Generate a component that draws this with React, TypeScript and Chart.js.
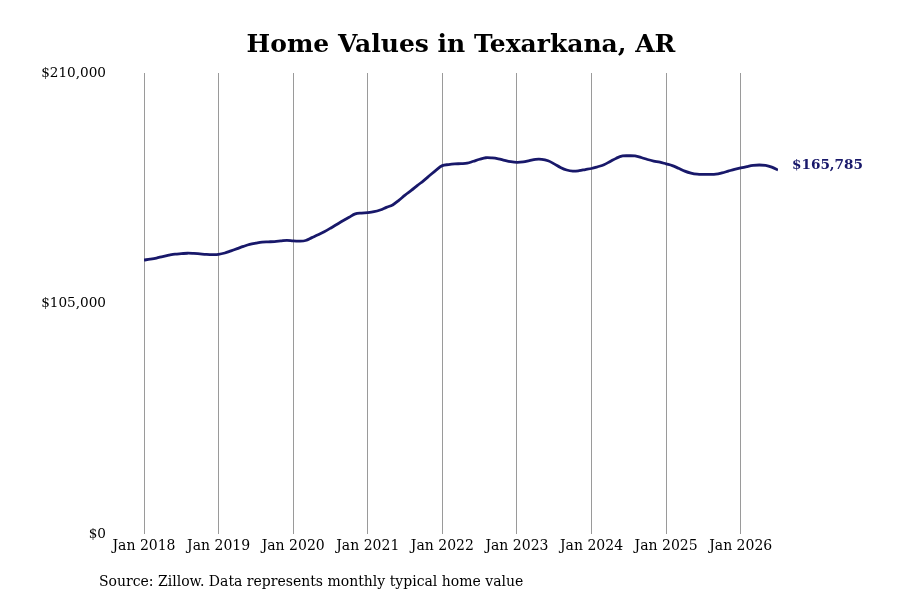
import React, { useEffect, useRef } from "react";
import { Chart, registerables } from "chart.js";

Chart.register(...registerables);

const START_YEAR = 2018;
const tickYears = ["Jan 2018", "Jan 2019", "Jan 2020", "Jan 2021", "Jan 2022", "Jan 2023", "Jan 2024", "Jan 2025", "Jan 2026"];

// Monthly typical home value, Jan 2018 .. Jul 2026
const values2018 = [124800, 125200, 125700, 126400, 127000, 127500, 127700, 127900, 127800, 127600, 127400, 127300];
const values2019 = [127400, 128000, 129000, 130000, 131000, 131900, 132500, 133000, 133100, 133200, 133500, 133800];
const values2020 = [133500, 133400, 133700, 135000, 136300, 137700, 139300, 141000, 142700, 144300, 145800, 146200];
const values2021 = [146400, 146800, 147600, 148800, 149900, 152000, 154400, 156500, 158800, 161000, 163400, 165800];
const values2022 = [167800, 168300, 168600, 168700, 168900, 169800, 170700, 171400, 171300, 170900, 170200, 169600];
const values2023 = [169300, 169500, 170100, 170700, 170700, 170000, 168600, 167000, 165800, 165300, 165500, 166000];
const values2024 = [166500, 167300, 168200, 169700, 171200, 172200, 172300, 172200, 171500, 170600, 169900, 169400];
const values2025 = [168600, 167800, 166600, 165300, 164400, 163900, 163800, 163800, 163900, 164500, 165300, 166100];
const values2026 = [166800, 167400, 167900, 168100, 167900, 167100, 165785];

const allValues = [
  ...values2018, ...values2019, ...values2020, ...values2021, ...values2022,
  ...values2023, ...values2024, ...values2025, ...values2026,
];

const TITLE = "Home Values in Texarkana, AR";
const SOURCE = "Source: Zillow. Data represents monthly typical home value";
const LINE_COLOR = "#18186a";
const FONT = "'DejaVu Serif', serif";

const fmt = (v: number) => "$" + Math.round(v).toLocaleString("en-US");

export default function App() {
  const ref = useRef<HTMLCanvasElement | null>(null);

  useEffect(() => {
    if (!ref.current) return;
    const points = allValues.map((v, i) => ({ x: i, y: v }));
    const lastIndex = allValues.length - 1;

    const extras = {
      id: "extras",
      afterDraw(chart: any) {
        const ctx = chart.ctx;
        const xs = chart.scales.x;
        const ys = chart.scales.y;
        ctx.save();
        // end label
        const lx = xs.getPixelForValue(lastIndex);
        const ly = ys.getPixelForValue(allValues[lastIndex]);
        ctx.font = `bold 13.6px ${FONT}`;
        ctx.fillStyle = LINE_COLOR;
        ctx.textAlign = "left";
        ctx.textBaseline = "middle";
        ctx.fillText(fmt(allValues[lastIndex]), lx + 14, ly - 5);
        // source note
        ctx.font = `14px ${FONT}`;
        ctx.fillStyle = "#000";
        ctx.textBaseline = "middle";
        ctx.fillText(SOURCE, 99, 582);
        ctx.restore();
      },
    };

    const chart = new Chart(ref.current, {
      type: "line",
      data: {
        datasets: [
          {
            data: points,
            borderColor: LINE_COLOR,
            borderWidth: 2.8,
            pointRadius: 0,
            tension: 0.35,
            fill: false,
          },
        ],
      },
      options: {
        responsive: false,
        animation: false,
        devicePixelRatio: 1,
        layout: { padding: { left: 0, right: 122, top: 0, bottom: 0 } },
        plugins: {
          legend: { display: false },
          tooltip: { enabled: false },
          title: {
            display: true,
            text: TITLE,
            fullSize: false,
            color: "#000",
            font: { family: FONT, size: 25, weight: "bold" },
            padding: { top: 30, bottom: 13 },
          },
        },
        scales: {
          x: {
            type: "linear",
            min: 0,
            max: lastIndex,
            border: { display: false },
            grid: { color: "#9a9a9a", lineWidth: 1, drawTicks: false },
            ticks: {
              stepSize: 12,
              includeBounds: false,
              autoSkip: false,
              maxRotation: 0,
              padding: 4,
              color: "#000",
              font: { family: FONT, size: 14 },
              callback: (v: any) => tickYears[Math.round(Number(v) / 12)] ?? "Jan " + (START_YEAR + Number(v) / 12),
            },
            afterFit: (scale: any) => {
              scale.height = 66;
            },
          },
          y: {
            min: 0,
            max: 210000,
            border: { display: false },
            grid: { display: false, drawTicks: false },
            ticks: {
              stepSize: 105000,
              padding: 38,
              color: "#000",
              font: { family: FONT, size: 13.6 },
              callback: (v: any) => fmt(Number(v)),
            },
            afterFit: (scale: any) => {
              scale.width = 144;
            },
          },
        },
      },
      plugins: [extras],
    });
    return () => chart.destroy();
  }, []);

  return (
    <div style={{ position: "fixed", left: 0, top: 0, width: 900, height: 600, background: "#fff" }}>
      <canvas ref={ref} width={900} height={600} style={{ width: 900, height: 600, display: "block" }} />
    </div>
  );
}
